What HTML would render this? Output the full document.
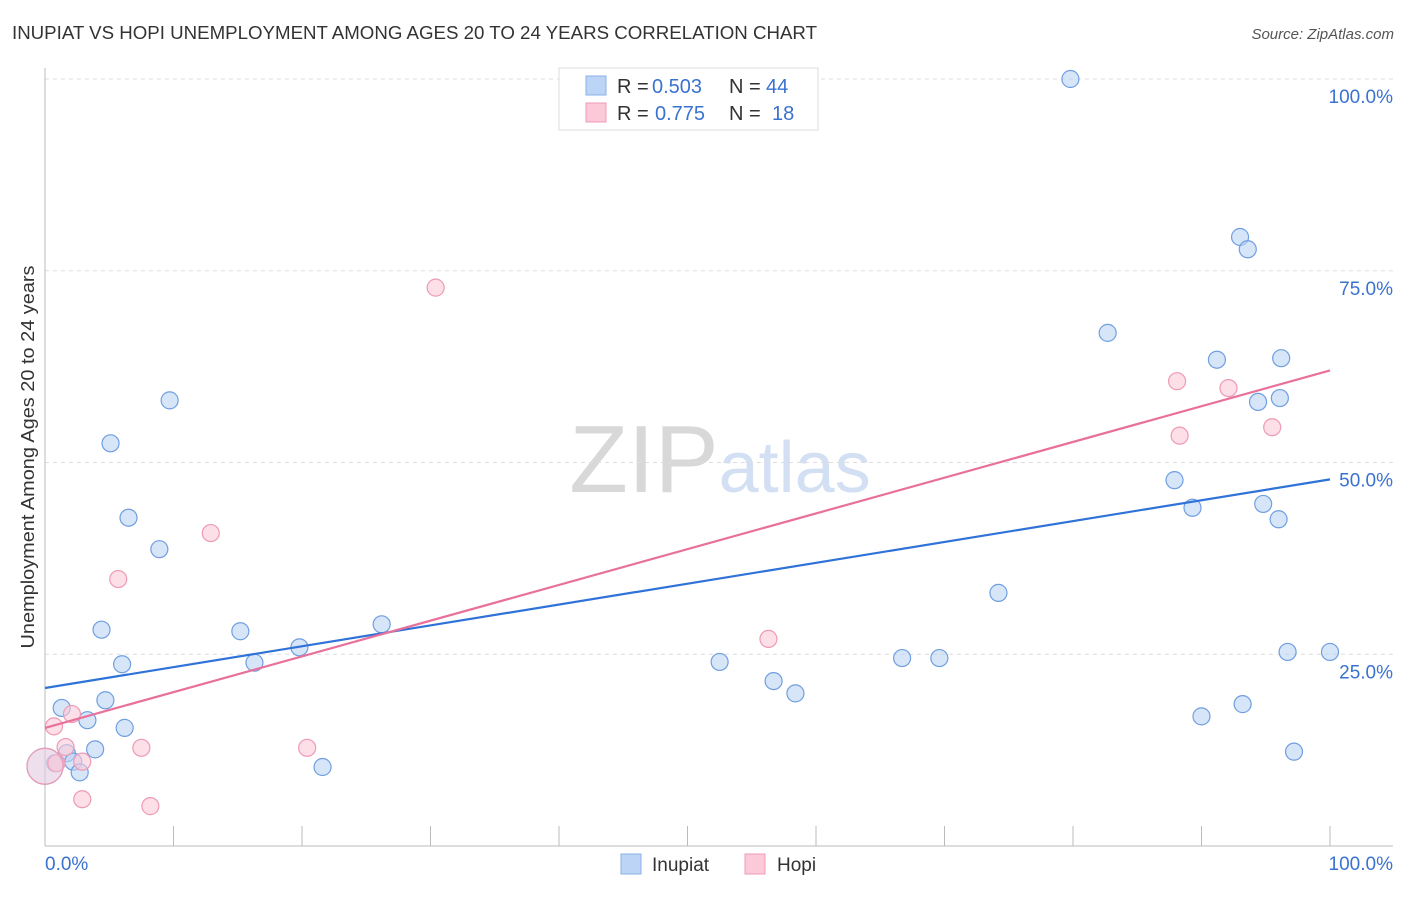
<!DOCTYPE html>
<html><head><meta charset="utf-8"><style>
body{margin:0;background:#fff;font-family:"Liberation Sans",sans-serif}
svg text{font-family:"Liberation Sans",sans-serif}
</style></head><body>
<svg id="chart" width="1406" height="892" xmlns="http://www.w3.org/2000/svg">
<text x="12" y="39" font-size="18" fill="#333" textLength="805" lengthAdjust="spacingAndGlyphs">INUPIAT VS HOPI UNEMPLOYMENT AMONG AGES 20 TO 24 YEARS CORRELATION CHART</text>
<text x="1394" y="39" font-size="15" fill="#555" text-anchor="end" font-style="italic">Source: ZipAtlas.com</text>
<text x="720" y="492" font-size="96" text-anchor="middle" fill="#ddd" font-family="Liberation Serif"><tspan fill="#d8d8d8">ZIP</tspan><tspan fill="#d3e0f3" font-family="Liberation Sans" font-size="72">atlas</tspan></text>
<g id="grid"></g>
<g id="axes"></g>
<g id="marks"></g>
<g>
<rect x="559" y="68" width="259" height="62" fill="#fff" stroke="#ddd"/>
<rect x="586" y="76" width="20" height="19" fill="#bcd4f5" stroke="#8ab0e8"/>
<rect x="586" y="103" width="20" height="19" fill="#fbc9d8" stroke="#f09ab5"/>
<text x="617" y="93" font-size="20" fill="#333">R =</text>
<text x="652" y="93" font-size="20" fill="#3a72d0">0.503</text>
<text x="729" y="93" font-size="20" fill="#333">N =</text>
<text x="766" y="93" font-size="20" fill="#3a72d0">44</text>
<text x="617" y="120" font-size="20" fill="#333">R =</text>
<text x="655" y="120" font-size="20" fill="#3a72d0">0.775</text>
<text x="729" y="120" font-size="20" fill="#333">N =</text>
<text x="772" y="120" font-size="20" fill="#3a72d0">18</text>
</g>
<g>
<rect x="621" y="854" width="20" height="20" fill="#bcd4f5" stroke="#8ab0e8"/>
<text x="652" y="871" font-size="19" fill="#333">Inupiat</text>
<rect x="745" y="854" width="20" height="20" fill="#fbc9d8" stroke="#f09ab5"/>
<text x="777" y="871" font-size="19" fill="#333">Hopi</text>
</g>
</svg>
<script>
const yTicks=[25,50,75,100];
const yTickLabels=["25.0%","50.0%","75.0%","100.0%"];
const xTickLabels=["0.0%","100.0%"];
const inupiatX=[79.8,93.0,93.6,82.7,91.2,96.2,94.4,96.1,87.9,89.3,94.8,96.0,74.2,96.7,100,66.7,69.6,52.5,56.7,58.4,90.0,93.2,97.2,9.7,5.1,6.5,8.9,4.4,15.2,6.0,16.3,19.8,26.2,4.7,1.3,3.3,6.2,3.9,1.7,2.2,2.7,21.6,0.8,0];
const inupiatY=[100,79.4,77.8,66.9,63.4,63.6,57.9,58.4,47.7,44.1,44.6,42.6,33.0,25.3,25.3,24.5,24.5,24.0,21.5,19.9,16.9,18.5,12.3,58.1,52.5,42.8,38.7,28.2,28.0,23.7,23.9,25.9,28.9,19.0,18.0,16.4,15.4,12.6,12.1,11.0,9.6,10.3,10.8,10.4];
const hopiX=[30.4,12.9,5.7,56.3,88.1,92.1,88.3,95.5,0.7,2.1,7.5,20.4,1.6,2.9,2.9,8.2,0.9,0];
const hopiY=[72.8,40.8,34.8,27.0,60.6,59.7,53.5,54.6,15.6,17.2,12.8,12.8,12.9,11.0,6.1,5.2,10.8,10.4];
const inupiatTrend=[20.6,47.8];
const hopiTrend=[15.4,62.0];
const NS="http://www.w3.org/2000/svg";
const xS=v=>45+v*12.85, yS=v=>846-v*7.67;
function mk(tag,attrs,parent){const e=document.createElementNS(NS,tag);for(const k in attrs)e.setAttribute(k,attrs[k]);document.getElementById(parent).appendChild(e);return e;}
yTicks.forEach((t,i)=>{
 const g=mk('line',{x1:45,x2:1393,y1:yS(t),y2:yS(t),stroke:'#ddd','stroke-dasharray':'4,4'},'grid');
 
 
 const l=mk('text',{x:1393,y:yS(t)+24,'font-size':19,fill:'#3a72d0','text-anchor':'end'},'axes');
 l.textContent=yTickLabels[i];
 
 
});
let a=mk('line',{x1:45,x2:45,y1:68,y2:846,stroke:'#bbb'},'axes');


a=mk('line',{x1:45,x2:1393,y1:846,y2:846,stroke:'#bbb'},'axes');


for(let i=1;i<=10;i++){const t=mk('line',{x1:xS(i*10),x2:xS(i*10),y1:826,y2:846,stroke:'#bbb'},'axes');
 
 }
[[0,'start',45],[100,'end',1393]].forEach((d,i)=>{const l=mk('text',{x:d[2],y:870,'font-size':19,fill:'#3a72d0','text-anchor':d[1]},'axes');l.textContent=xTickLabels[i];
 
 });
const yt=mk('text',{x:34,y:457,'font-size':18,fill:'#333','text-anchor':'middle',transform:'rotate(-90 34 457)',textLength:383,lengthAdjust:'spacingAndGlyphs'},'axes');
yt.textContent='Unemployment Among Ages 20 to 24 years';


function pts(X,Y,fill,stroke,name){X.forEach((x,i)=>{const r=(x===0)?18:8.5;
 const c=mk('circle',{cx:xS(x),cy:yS(Y[i]),r:r,fill:fill,'fill-opacity':(x===0)?0.4:0.6,stroke:stroke,'stroke-width':1.2},'marks');
 
 });}
pts(inupiatX,inupiatY,'#bcd4f5','#6f9fe0','inupiat-point');
pts(hopiX,hopiY,'#fbc9d8','#ee9ab4','hopi-point');
let t=mk('line',{x1:xS(0),y1:yS(inupiatTrend[0]),x2:xS(100),y2:yS(inupiatTrend[1]),stroke:'#2f72d8','stroke-width':2.2},'marks');


t=mk('line',{x1:xS(0),y1:yS(hopiTrend[0]),x2:xS(100),y2:yS(hopiTrend[1]),stroke:'#e8709a','stroke-width':2.2},'marks');


</script>
</body></html>
